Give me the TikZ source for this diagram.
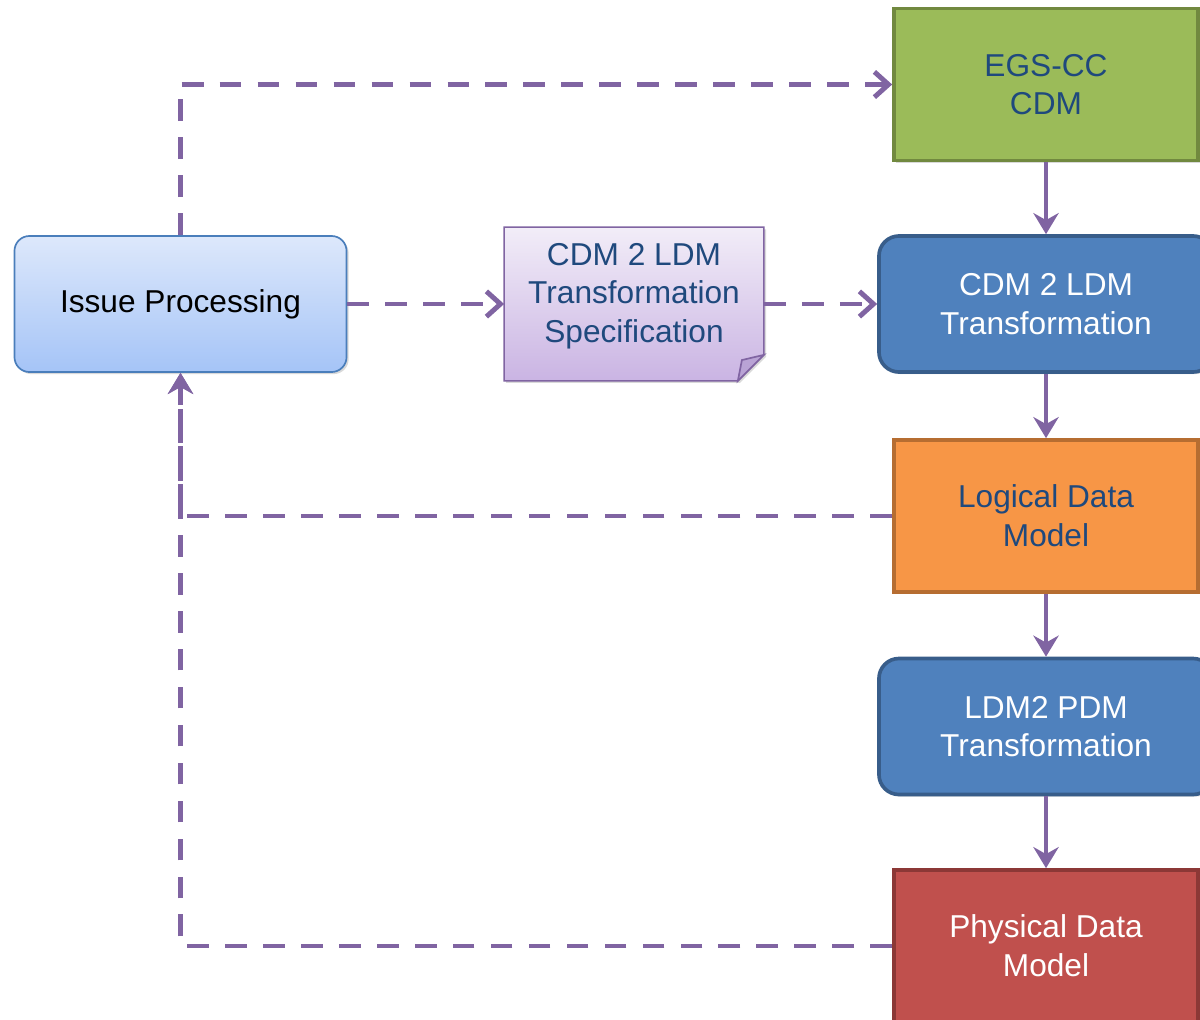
\documentclass[tikz,border=0pt]{standalone}
\usepackage{fontspec}
\setmainfont{Liberation Sans}
\usetikzlibrary{arrows.meta, positioning, shadows, backgrounds, calc}

\definecolor{flowpurple}{HTML}{8064A2}
\definecolor{textblue}{HTML}{1F497D}
\definecolor{egsgreen}{HTML}{9BBB59}
\definecolor{egsborder}{HTML}{71893F}
\definecolor{procblue}{HTML}{4F81BD}
\definecolor{procborder}{HTML}{385D8A}
\definecolor{logicorange}{HTML}{F79646}
\definecolor{logicborder}{HTML}{B66D31}
\definecolor{physred}{HTML}{C0504D}
\definecolor{physborder}{HTML}{8C3836}
\definecolor{issuetop}{HTML}{DDE8FB}
\definecolor{issuebottom}{HTML}{A5C4F7}
\definecolor{issueborder}{HTML}{4A7EBB}
\definecolor{spectop}{HTML}{F2EDF8}
\definecolor{specbottom}{HTML}{CAB4E3}
\definecolor{specfold}{HTML}{B9A3D5}

\tikzset{
    base/.style={font=\fontsize{22.5}{27.5}\selectfont, align=center, inner sep=4pt},
    shadowed/.style={drop shadow={shadow xshift=1.5pt, shadow yshift=-1.5pt, opacity=0.3}},
    modelbox/.style={base, shadowed, rectangle, minimum width=7.6cm, minimum height=3.8cm, line width=2.6pt},
    procbox/.style={base, shadowed, rectangle, rounded corners=0.5cm, minimum width=8.35cm, minimum height=3.4cm,
        line width=2.6pt, draw=procborder, fill=procblue, text=white},
    issuebox/.style={base, shadowed, rectangle, rounded corners=0.375cm, minimum width=8.3cm, minimum height=3.4cm,
        line width=1.2pt, draw=issueborder, top color=issuetop, bottom color=issuebottom, text=black},
    specbox/.style={rectangle, minimum width=6.45cm, minimum height=3.8cm, inner sep=0pt, outer sep=0.6pt},
    spectext/.style={base, text=textblue},
    specfill/.style={shadowed, draw=flowpurple, line width=1.2pt, top color=spectop, bottom color=specbottom},
    flowline/.style={draw=flowpurple, line width=3.5pt, -{Stealth[length=15pt, width=18pt, inset=5pt]}},
    dashline/.style={draw=flowpurple, line width=3.5pt, dash pattern=on 15.5pt off 11.5pt,
        -{Straight Barb[length=10pt, width=18pt]}}
}

\begin{document}
\begin{tikzpicture}[x=0.025cm, y=-0.025cm]
    \useasboundingbox (0,0) rectangle (1200,1019);

    \node [issuebox] (Issue) at (180.5,304) {Issue Processing};
    \node [specbox] (Spec) at (634,304) {};
    \node [spectext] (SpecText) at ([yshift=0.2cm]Spec.center) {CDM 2 LDM\\Transformation\\Specification};

    % right column
    \node [modelbox, draw=egsborder, fill=egsgreen, text=textblue] (EGS) at (1046,84.5) {EGS-CC\\CDM};
    \node [procbox] (CDM) at (1046,304) {CDM 2 LDM\\Transformation};
    \node [modelbox, draw=logicborder, fill=logicorange, text=textblue] (Logical) at (1046,516) {Logical Data\\Model};
    \node [procbox] (LDM) at (1046,726.5) {LDM2 PDM\\Transformation};
    \node [modelbox, draw=physborder, fill=physred, text=white] (Physical) at (1046,946) {Physical Data\\Model};

    % dog-eared note behind the specification text
    \begin{scope}[on background layer]
        \path [specfill] (Spec.north west) -- (Spec.north east) -- ([yshift=0.65cm]Spec.south east)
            -- ([xshift=-0.65cm]Spec.south east) -- (Spec.south west) -- cycle;
        \path [draw=flowpurple, line width=1.2pt, fill=specfold] ([yshift=0.65cm]Spec.south east)
            -- ([xshift=-0.55cm, yshift=0.52cm]Spec.south east) -- ([xshift=-0.65cm]Spec.south east) -- cycle;
    \end{scope}

    \draw [flowline] (EGS) -- (CDM);
    \draw [flowline] (CDM) -- (Logical);
    \draw [flowline] (Logical) -- (LDM);
    \draw [flowline] (LDM) -- (Physical);

    \draw [dashline] (Issue.north) |- (EGS.west);
    \draw [dashline] (Issue.east) -- (Spec.west);
    \draw [dashline] (Spec.east) -- (CDM.west);
    \draw [dashline, -{Stealth[length=15pt, width=18pt, inset=5pt]}] (Logical.west) -| (Issue.south);
    \draw [dashline, -{Stealth[length=15pt, width=18pt, inset=5pt]}] (Physical.west) -| (Issue.south);
\end{tikzpicture}
\end{document}
